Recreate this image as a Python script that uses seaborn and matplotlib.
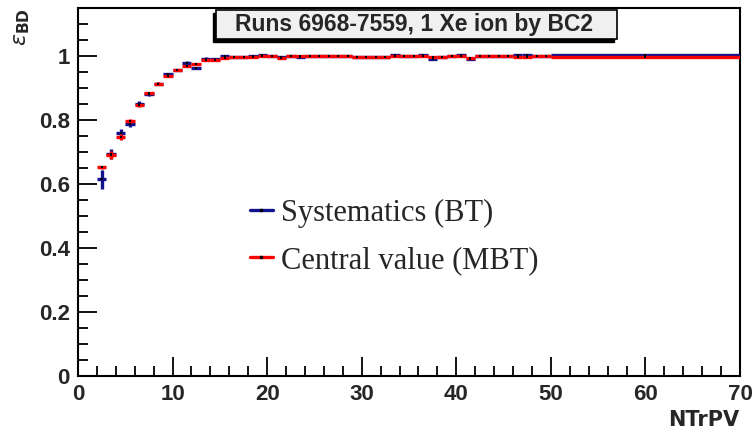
import numpy as np
import pandas as pd
import matplotlib
matplotlib.use("Agg")
import matplotlib.pyplot as plt
import seaborn as sns
from matplotlib.lines import Line2D
from matplotlib.patches import Rectangle
from matplotlib.ticker import MultipleLocator, FuncFormatter

# ---------------- data ----------------
bin_lo = [float(v) for v in range(2, 50)] + [50.0]
bin_hi = [float(v) for v in range(3, 51)] + [70.0]

bt_eff = [0.615, 0.694, 0.760, 0.788, 0.851, 0.881, 0.914, 0.943, 0.956, 0.979,
          0.963, 0.992, 0.991, 0.999, 0.998, 0.998, 0.999, 1.003, 1.000, 0.996,
          1.000, 0.996, 1.000, 1.000, 0.999, 1.000, 0.999, 0.997, 0.997, 0.998,
          0.998, 1.003, 1.000, 1.000, 1.003, 0.991, 0.996, 1.000, 1.003, 0.991,
          1.000, 1.000, 1.000, 1.000, 1.002, 1.002, 1.000, 1.000, 1.002]
bt_err = [0.030, 0.015, 0.013, 0.010, 0.008, 0.006, 0.005, 0.005, 0.004, 0.004,
          0.004, 0.004, 0.003, 0.003, 0.003, 0.003, 0.003, 0.003, 0.003, 0.003,
          0.003, 0.003, 0.003, 0.003, 0.003, 0.003, 0.003, 0.003, 0.003, 0.003,
          0.003, 0.003, 0.003, 0.003, 0.003, 0.003, 0.003, 0.003, 0.003, 0.003,
          0.003, 0.003, 0.003, 0.003, 0.003, 0.003, 0.003, 0.003, 0.001]

mbt_eff = [0.652, 0.690, 0.747, 0.797, 0.846, 0.885, 0.914, 0.939, 0.955, 0.968,
           0.975, 0.987, 0.988, 0.995, 0.996, 0.998, 0.998, 1.000, 1.000, 0.995,
           0.999, 0.999, 1.000, 1.000, 0.999, 1.000, 0.999, 0.998, 0.998, 0.998,
           0.998, 1.000, 1.000, 1.000, 0.999, 0.998, 0.998, 1.000, 0.999, 0.995,
           1.000, 1.000, 1.000, 1.000, 0.997, 0.997, 1.000, 1.000, 0.998]
mbt_err = [0.004, 0.012, 0.008, 0.006, 0.005, 0.004, 0.004, 0.003, 0.003, 0.003,
           0.003, 0.003, 0.002, 0.002, 0.002, 0.002, 0.002, 0.002, 0.002, 0.002,
           0.002, 0.002, 0.002, 0.002, 0.002, 0.002, 0.002, 0.002, 0.002, 0.002,
           0.002, 0.002, 0.002, 0.002, 0.002, 0.002, 0.002, 0.002, 0.002, 0.002,
           0.002, 0.002, 0.002, 0.002, 0.002, 0.002, 0.002, 0.002, 0.001]

title_text = "Runs 6968-7559, 1 Xe ion by BC2"
label_bt = "Systematics (BT)"
label_mbt = "Central value (MBT)"
x_label = "NTrPV"

BLUE = "#12128f"
RED = "#ff0000"

# ---------------- figure ----------------
sns.set_theme(style="ticks")
plt.rcParams["font.family"] = ["Liberation Sans", "DejaVu Sans"]

fig = plt.figure(figsize=(7.52, 4.32), dpi=100)
W, H = 752.0, 432.0
ax = fig.add_axes([78 / W, 1 - 376 / H, (740 - 78) / W, (376 - 8) / H])

lo = np.array(bin_lo)
hi = np.array(bin_hi)
xc = (lo + hi) / 2
xe = (hi - lo) / 2

df = pd.DataFrame({"x": np.concatenate([xc, xc]),
                   "eff": np.concatenate([bt_eff, mbt_eff]),
                   "err": np.concatenate([bt_err, mbt_err]),
                   "xerr": np.concatenate([xe, xe]),
                   "sample": [label_bt] * len(xc) + [label_mbt] * len(xc)})

for lab, col, lw in [(label_bt, BLUE, 2.4), (label_mbt, RED, 2.4)]:
    d = df[df["sample"] == lab]
    ax.errorbar(d["x"], d["eff"], xerr=d["xerr"], yerr=d["err"], fmt="none",
                ecolor=col, elinewidth=lw, capsize=0, zorder=3)

sns.scatterplot(data=df, x="x", y="eff", color="black", s=2, marker="s",
                linewidth=0, ax=ax, zorder=4, legend=False)

ax.set_xlim(0, 70)
ax.set_ylim(0, 1.15)
ax.xaxis.set_major_locator(MultipleLocator(10))
ax.xaxis.set_minor_locator(MultipleLocator(2))
ax.yaxis.set_major_locator(MultipleLocator(0.2))
ax.yaxis.set_minor_locator(MultipleLocator(0.05))


def fmt(v, pos):
    s = f"{v:.1f}".rstrip("0").rstrip(".")
    return s


ax.xaxis.set_major_formatter(FuncFormatter(fmt))
ax.yaxis.set_major_formatter(FuncFormatter(fmt))
ax.tick_params(axis="both", which="major", direction="in", length=14, width=1.3,
               labelsize=16, pad=6, color="black")
ax.tick_params(axis="both", which="minor", direction="in", length=7, width=1.3,
               color="black")
ax.tick_params(axis="x", which="both", top=False)
ax.tick_params(axis="y", which="both", right=False)
for lbl in ax.get_xticklabels() + ax.get_yticklabels():
    lbl.set_fontweight("bold")
for sp in ax.spines.values():
    sp.set_linewidth(1.5)
    sp.set_color("black")
ax.set_xlabel("")
ax.set_ylabel("")

fig.text(739 / W, 1 - 419.5 / H, x_label, ha="right", va="center",
         fontsize=15, fontweight="bold", family=["DejaVu Sans"])
fig.text(22 / W, 1 - 8 / H, r"$\epsilon_{\mathbf{BD}}$", rotation=90,
         ha="center", va="top", fontsize=16)

# title box with shadow
fig.patches.append(Rectangle((213 / W, 1 - 42 / H), (614 - 213) / W, (42 - 13) / H,
                             transform=fig.transFigure, facecolor="black",
                             edgecolor="black", zorder=5))
fig.patches.append(Rectangle((216 / W, 1 - 39 / H), (617 - 216) / W, (39 - 10) / H,
                             transform=fig.transFigure, facecolor="#f0f0f0",
                             edgecolor="black", linewidth=1.2, zorder=6))
fig.text(414 / W, 1 - 24.5 / H, title_text, ha="center", va="center",
         fontsize=16.5, fontweight="bold", zorder=7)

handles = [Line2D([], [], color=BLUE, lw=2.4, marker="s", markersize=1.5,
                  markerfacecolor="black", markeredgecolor="black",
                  markevery=[1]),
           Line2D([], [], color=RED, lw=2.4, marker="s", markersize=1.5,
                  markerfacecolor="black", markeredgecolor="black",
                  markevery=[1])]
leg = ax.legend(handles, [label_bt, label_mbt], loc="upper left",
                bbox_to_anchor=((250 - 78) / (740 - 78), (376 - 199) / (376 - 8)),
                frameon=False, handlelength=0.75, handletextpad=0.25,
                labelspacing=0.58, borderaxespad=0, borderpad=0,
                prop={"family": "Liberation Serif", "size": 22})

fig.savefig("out.png", dpi=100)
